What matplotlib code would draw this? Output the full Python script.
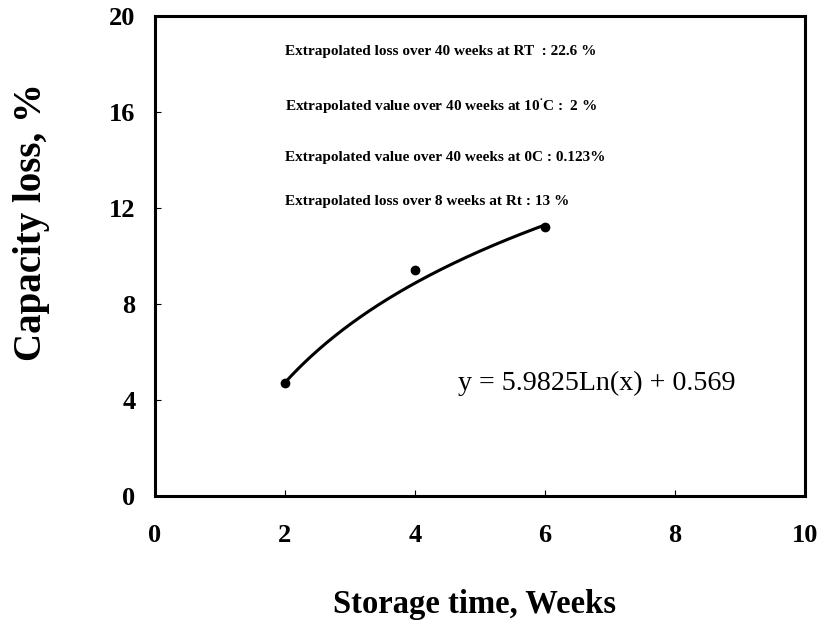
import numpy as np
import matplotlib
matplotlib.use("Agg")
import matplotlib.pyplot as plt

weeks = [2, 4, 6]
capacity_loss = [4.7, 9.4, 11.2]
fit_a, fit_b = 5.9825, 0.569
x_ticks = [0, 2, 4, 6, 8, 10]
y_ticks = [0, 4, 8, 12, 16, 20]
notes = [
    "Extrapolated loss over 40 weeks at RT  : 22.6 %",
    "Extrapolated value over 40 weeks at 10$^{\\bullet}$C :  2 %",
    "Extrapolated value over 40 weeks at 0C : 0.123%",
    "Extrapolated loss over 8 weeks at Rt : 13 %",
]
note_y = [18.5, 16.2, 14.1, 12.25]
equation = "y = 5.9825Ln(x) + 0.569"

plt.rcParams['font.family'] = ['Liberation Serif', 'DejaVu Serif']
plt.rcParams['mathtext.fontset'] = 'custom'
plt.rcParams['mathtext.rm'] = 'Liberation Serif:bold'
plt.rcParams['mathtext.bf'] = 'Liberation Serif:bold'

fig = plt.figure(figsize=(8.28, 6.35), dpi=100)
ax = fig.add_axes([0.187, 0.219, 0.785, 0.756])

xf = np.linspace(min(weeks), max(weeks), 200)
ax.plot(xf, fit_a * np.log(xf) + fit_b, color='black', lw=2.2)
ax.plot(weeks, capacity_loss, 'o', color='black', ms=6)

ax.set_xlim(0, 10)
ax.set_ylim(0, 20)
ax.set_xticks(x_ticks)
ax.set_yticks(y_ticks)
ax.tick_params(axis='both', direction='in', length=4, width=0.8, labelsize=19)
ax.tick_params(axis='x', pad=20)
ax.tick_params(axis='y', pad=14)
for lab in ax.get_xticklabels() + ax.get_yticklabels():
    lab.set_fontweight('bold')
for s in ax.spines.values():
    s.set_linewidth(2.2)

ax.set_xlabel("Storage time, Weeks", fontsize=23.5, fontweight='bold')
ax.set_ylabel("Capacity loss, %", fontsize=28, fontweight='bold')
ax.xaxis.set_label_coords(0.492, -0.227)
ax.yaxis.set_label_coords(-0.19, 0.571)
ax.xaxis.label.set_va('center')
ax.yaxis.label.set_va('center')

for t, yv in zip(notes, note_y):
    ax.text(2.0, yv, t, fontsize=11, fontweight='bold', va='center', ha='left')

ax.text(4.66, 4.7, equation, fontsize=20.2, va='center', ha='left')

fig.savefig("out.png", dpi=100)
